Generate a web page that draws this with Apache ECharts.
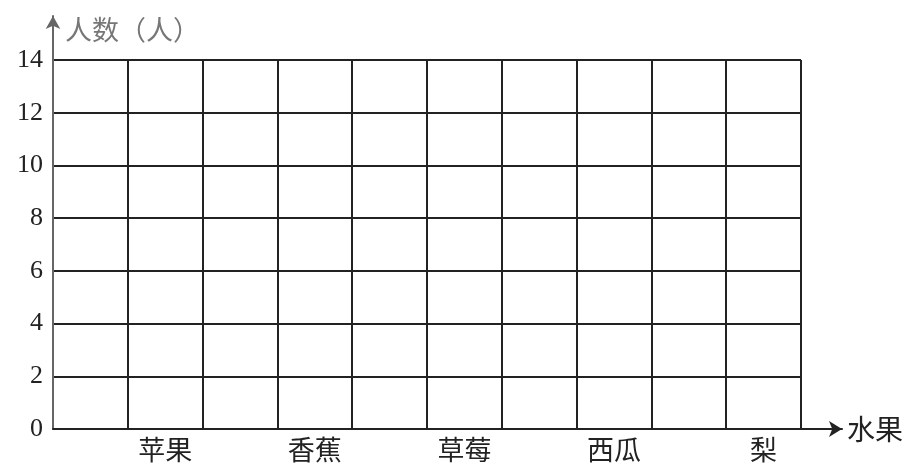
<!DOCTYPE html>
<html>
<head>
<meta charset="utf-8">
<script src="https://cdn.jsdelivr.net/npm/echarts@6/dist/echarts.min.js"></script>
<style>
html,body{margin:0;padding:0;background:#fff;}
#chart{width:908px;height:465px;}
</style>
</head>
<body>
<div id="chart"></div>
<script>
const categories = ['苹果', '香蕉', '草莓', '西瓜', '梨'];
const yMin = 0;
const yMax = 14;
const yStep = 2;
const yName = '人数（人）';
const xName = '水果';

// each fruit occupies the second of two grid columns
const slots = categories.flatMap((c, i) => ['gap' + i, c]);

const chart = echarts.init(document.getElementById('chart'), null, {renderer: 'canvas'});
const cjk = '"Noto Sans CJK SC", "Noto Sans", sans-serif';
const serif = '"Liberation Serif", "DejaVu Serif", serif';
const gridColor = '#222';

chart.setOption({
  backgroundColor: '#fff',
  animation: false,
  grid: [
    {left: 53, right: 107, top: 60, bottom: 36},
    {left: 53, right: 66, top: 16, bottom: 36}
  ],
  xAxis: [
    {
      gridIndex: 0,
      type: 'category',
      data: slots,
      boundaryGap: true,
      axisLine: {show: false},
      axisTick: {show: false},
      axisLabel: {
        interval: 0,
        margin: 7,
        fontFamily: cjk,
        fontSize: 27,
        color: '#222',
        formatter: v => categories.includes(v) ? v : ''
      },
      splitLine: {show: true, interval: 0, lineStyle: {color: gridColor, width: 2}}
    },
    {
      gridIndex: 1,
      type: 'value',
      min: 0, max: 1,
      axisLine: {show: true, symbol: ['none', 'arrow'], symbolSize: [12, 13], lineStyle: {color: '#222', width: 2}},
      axisTick: {show: false},
      axisLabel: {show: false},
      splitLine: {show: false},
      name: xName,
      nameLocation: 'end',
      nameGap: 5,
      nameTextStyle: {fontFamily: cjk, fontSize: 28, color: '#222'}
    }
  ],
  yAxis: [
    {
      gridIndex: 0,
      type: 'value',
      min: yMin, max: yMax, interval: yStep,
      axisLine: {show: false},
      axisTick: {show: false},
      axisLabel: {margin: 10, fontFamily: serif, fontSize: 26, color: '#222'},
      splitLine: {show: true, lineStyle: {color: gridColor, width: 2}}
    },
    {
      gridIndex: 1,
      type: 'value',
      min: 0, max: 1,
      axisLine: {show: true, symbol: ['none', 'arrow'], symbolSize: [11, 13], lineStyle: {color: '#666', width: 2}},
      axisTick: {show: false},
      axisLabel: {show: false},
      splitLine: {show: false},
      name: yName,
      nameLocation: 'end',
      nameGap: -14,
      nameTextStyle: {fontFamily: cjk, fontSize: 27, color: '#777', align: 'left', verticalAlign: 'middle', padding: [0, 0, 0, 12]}
    }
  ],
  series: [
    {type: 'bar', xAxisIndex: 0, yAxisIndex: 0, data: []}
  ]
});
</script>
</body>
</html>
